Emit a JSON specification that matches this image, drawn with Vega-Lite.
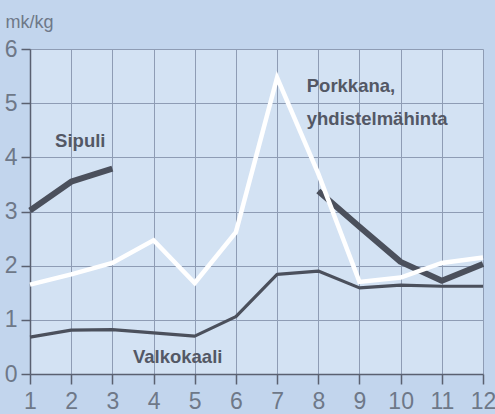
{
  "$schema": "https://vega.github.io/schema/vega-lite/v6.json",
  "width": 453,
  "height": 325,
  "autosize": "none",
  "padding": {"left": 30, "top": 49, "right": 12, "bottom": 40},
  "background": "#c2d5ed",
  "config": {
    "view": {"fill": "#d3e2f3", "stroke": null},
    "font": "Liberation Sans"
  },
  "datasets": {
    "lines": [
      {"series": "Sipuli", "month": 1, "price": 3.02},
      {"series": "Sipuli", "month": 2, "price": 3.55},
      {"series": "Sipuli", "month": 3, "price": 3.79},
      {"series": "Porkkana2", "month": 8, "price": 3.38},
      {"series": "Porkkana2", "month": 9, "price": 2.72},
      {"series": "Porkkana2", "month": 10, "price": 2.07},
      {"series": "Porkkana2", "month": 11, "price": 1.72},
      {"series": "Porkkana2", "month": 12, "price": 2.03},
      {"series": "Valkokaali", "month": 1, "price": 0.68},
      {"series": "Valkokaali", "month": 2, "price": 0.81},
      {"series": "Valkokaali", "month": 3, "price": 0.82},
      {"series": "Valkokaali", "month": 4, "price": 0.76},
      {"series": "Valkokaali", "month": 5, "price": 0.7},
      {"series": "Valkokaali", "month": 6, "price": 1.06},
      {"series": "Valkokaali", "month": 7, "price": 1.84},
      {"series": "Valkokaali", "month": 8, "price": 1.9},
      {"series": "Valkokaali", "month": 9, "price": 1.59},
      {"series": "Valkokaali", "month": 10, "price": 1.64},
      {"series": "Valkokaali", "month": 11, "price": 1.62},
      {"series": "Valkokaali", "month": 12, "price": 1.62}
    ],
    "white": [
      {"month": 1, "price": 1.65},
      {"month": 2, "price": 1.84},
      {"month": 3, "price": 2.05},
      {"month": 4, "price": 2.47},
      {"month": 5, "price": 1.68},
      {"month": 6, "price": 2.62},
      {"month": 7, "price": 5.47},
      {"month": 8, "price": 3.7},
      {"month": 9, "price": 1.7},
      {"month": 10, "price": 1.78},
      {"month": 11, "price": 2.05},
      {"month": 12, "price": 2.15}
    ],
    "labels": [
      {"label": "Sipuli", "month": 1.61, "price": 4.19},
      {"label": "Porkkana,", "month": 7.72, "price": 5.21},
      {"label": "yhdistelmähinta", "month": 7.72, "price": 4.6},
      {"label": "Valkokaali", "month": 3.5, "price": 0.2}
    ]
  },
  "encoding": {
    "x": {
      "field": "month",
      "type": "quantitative",
      "scale": {"domain": [1, 12], "nice": false, "zero": false},
      "axis": {
        "title": null,
        "values": [1, 2, 3, 4, 5, 6, 7, 8, 9, 10, 11, 12],
        "labelFontSize": 23,
        "labelColor": "#6e7888",
        "labelPadding": 6,
        "tickColor": "#5a6070",
        "tickSize": 10,
        "tickWidth": 1.5,
        "domainColor": "#5a6070",
        "domainWidth": 1.5,
        "gridColor": "#8e9cb4",
        "gridOpacity": 1,
        "labelFlush": false
      }
    },
    "y": {
      "field": "price",
      "type": "quantitative",
      "scale": {"domain": [0, 6], "nice": false},
      "axis": {
        "title": "mk/kg",
        "titleAngle": 0,
        "titleX": -25,
        "titleY": -22,
        "titleAlign": "left",
        "titleBaseline": "alphabetic",
        "titleFontSize": 18,
        "titleFontWeight": "normal",
        "titleColor": "#6e7888",
        "values": [0, 1, 2, 3, 4, 5, 6],
        "labelFontSize": 23,
        "labelColor": "#6e7888",
        "labelPadding": 4,
        "tickColor": "#5a6070",
        "tickSize": 9,
        "tickWidth": 1.5,
        "domainColor": "#5a6070",
        "domainWidth": 1.5,
        "gridColor": "#8e9cb4",
        "gridOpacity": 1,
        "labelFlush": false
      }
    }
  },
  "layer": [
    {
      "data": {"name": "lines"},
      "transform": [{"filter": "datum.series === 'Valkokaali'"}],
      "mark": {"type": "line", "color": "#4b505c", "strokeWidth": 3.2, "strokeJoin": "round"},
      "encoding": {}
    },
    {
      "data": {"name": "lines"},
      "transform": [{"filter": "datum.series !== 'Valkokaali'"}],
      "mark": {"type": "line", "color": "#4b505c", "strokeWidth": 6, "strokeCap": "butt", "strokeJoin": "round"},
      "encoding": {"detail": {"field": "series"}}
    },
    {
      "data": {"name": "white"},
      "mark": {"type": "line", "color": "#ffffff", "strokeWidth": 4.5, "strokeJoin": "miter"},
      "encoding": {}
    },
    {
      "data": {"name": "labels"},
      "mark": {"type": "text", "align": "left", "baseline": "alphabetic", "fontSize": 18.5, "fontWeight": "bold", "color": "#535865"},
      "encoding": {"text": {"field": "label"}}
    }
  ]
}
